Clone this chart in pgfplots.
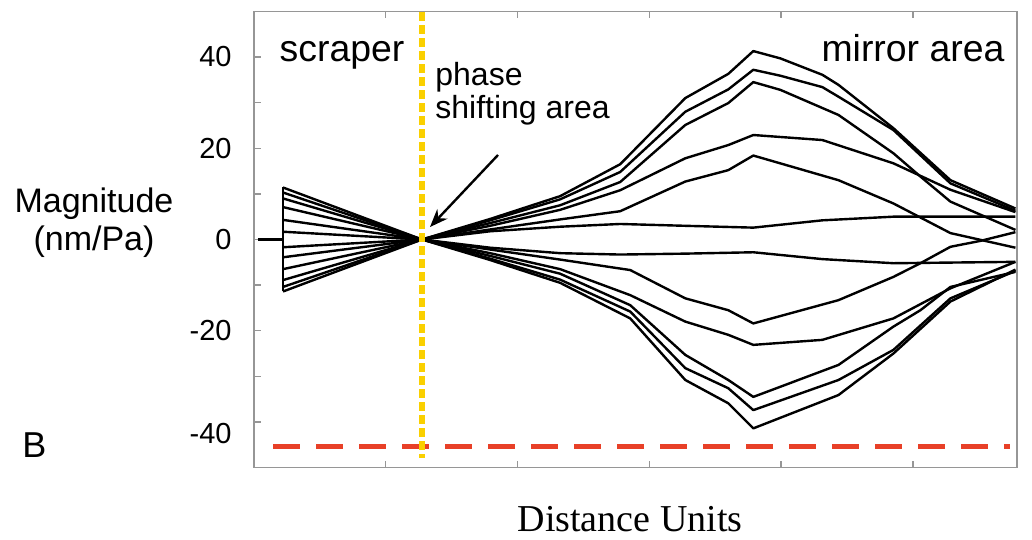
\documentclass[border=0pt]{standalone}
\usepackage{pgfplots}
\pgfplotsset{compat=1.18}
\usetikzlibrary{arrows.meta}
\usepackage{fontspec}
\setmainfont{Liberation Sans}
\newfontfamily\seriffont{Liberation Serif}
\definecolor{gold}{RGB}{250,208,0}
\definecolor{redline}{RGB}{232,64,40}
\definecolor{boxgray}{RGB}{150,150,150}

\begin{document}
\begin{tikzpicture}
\useasboundingbox (0pt,0pt) rectangle (516pt,270pt);
\begin{axis}[
    at={(127pt,36.2pt)}, anchor=south west,
    scale only axis,
    width=381.5pt, height=228.1pt,
    xmin=0, xmax=5.79,
    ymin=-50, ymax=50,
    xtick={1,2,3,4,5}, xticklabels={},
    ytick={-40,-30,...,40},
    yticklabels={,,-20,,0,,20,,40},
    extra y ticks={-40},
    extra y tick labels={-40},
    extra y tick style={yticklabel style={yshift=-6pt}},
    xtick pos=both, ytick pos=left,
    tick align=inside,
    major tick length=3.5pt,
    axis line style={boxgray, line width=0.7pt},
    tick style={boxgray, line width=0.7pt},
    /pgf/number format/assume math mode=true,
    yticklabel style={font=\fontsize{14.5}{17}\selectfont, inner sep=0pt, xshift=-11pt},
    clip=false,
    curve/.style={black, solid, line width=1.2pt, line join=round, no markers},
]
% scraper fan
\addplot[curve] coordinates {(0.03,0)(0.22,0)};
\addplot[curve] coordinates {(0.22,-11.4)(0.22,11.4)};

% positive branches
\addplot[curve] coordinates {(0.22,11.4)(1.275,0)(1.792,4.5)(2.323,9.5)(2.779,16.5)(3.273,31.0)(3.599,36.3)(3.789,41.3)(3.994,39.7)(4.313,36.1)(4.435,33.9)(4.852,24.4)(5.285,13.0)(5.778,6.8)};
\addplot[curve] coordinates {(0.22,10.3)(1.275,0)(1.792,4.2)(2.323,8.8)(2.779,14.8)(3.273,28.0)(3.599,32.9)(3.789,37.2)(3.994,35.9)(4.313,33.4)(4.435,31.3)(4.852,24.0)(5.285,12.3)(5.778,6.3)};
\addplot[curve] coordinates {(0.22,9.0)(1.275,0)(1.792,3.6)(2.323,7.5)(2.779,12.6)(3.273,25.1)(3.599,29.9)(3.789,34.5)(3.994,32.8)(4.435,27.3)(4.852,18.9)(5.057,13.8)(5.285,8.3)(5.778,2.1)};
\addplot[curve] coordinates {(0.22,7.1)(1.275,0)(1.792,3.0)(2.323,6.5)(2.779,10.8)(3.273,17.8)(3.599,20.7)(3.789,22.9)(4.313,21.8)(4.852,16.7)(5.285,10.9)(5.778,6.0)};
\addplot[curve] coordinates {(0.22,4.3)(1.275,0)(1.792,2.2)(2.323,4.4)(2.779,6.2)(3.273,12.7)(3.599,15.2)(3.789,18.4)(4.435,13.0)(4.852,7.9)(5.285,1.4)(5.778,-1.8)};
\addplot[curve] coordinates {(0.22,1.7)(1.275,0)(1.792,1.8)(2.323,2.8)(2.779,3.4)(3.273,3.0)(3.789,2.6)(4.313,4.2)(4.852,5.0)(5.778,5.0)};

% negative branches
\addplot[curve] coordinates {(0.22,-1.7)(1.275,0)(1.792,-1.8)(2.323,-3.0)(2.779,-3.3)(3.273,-3.1)(3.789,-2.8)(4.313,-4.3)(4.852,-5.2)(5.778,-4.9)};
\addplot[curve] coordinates {(0.22,-3.9)(1.275,0)(1.792,-2.2)(2.323,-4.4)(2.855,-6.7)(3.273,-12.9)(3.599,-15.5)(3.789,-18.4)(4.435,-13.3)(4.852,-8.2)(5.057,-5.2)(5.285,-1.6)(5.513,-0.3)(5.778,1.6)};
\addplot[curve] coordinates {(0.22,-6.5)(1.275,0)(1.792,-3.0)(2.323,-6.5)(2.855,-12.2)(3.273,-18.0)(3.599,-20.9)(3.789,-23.1)(4.313,-22.0)(4.852,-17.3)(5.285,-10.7)(5.778,-4.9)};
\addplot[curve] coordinates {(0.22,-8.9)(1.275,0)(1.792,-3.6)(2.323,-7.5)(2.855,-14.4)(3.273,-25.3)(3.599,-30.8)(3.789,-34.5)(4.435,-27.5)(4.852,-19.1)(5.057,-15.5)(5.285,-10.4)(5.778,-7.1)};
\addplot[curve] coordinates {(0.22,-10.4)(1.275,0)(1.792,-4.2)(2.323,-8.8)(2.855,-15.8)(3.273,-28.2)(3.599,-32.6)(3.789,-37.4)(4.435,-30.8)(4.852,-24.2)(5.285,-12.9)(5.778,-6.9)};
\addplot[curve] coordinates {(0.22,-11.4)(1.275,0)(1.792,-4.5)(2.323,-9.5)(2.855,-17.3)(3.273,-30.8)(3.599,-35.9)(3.789,-41.4)(4.435,-34.1)(4.852,-25.0)(5.285,-13.6)(5.778,-6.6)};

% markers of the areas
\addplot[redline, solid, line width=2.6pt, dash pattern=on 13.5pt off 8pt, no markers] coordinates {(0.145,-45.4)(5.738,-45.4)};
\addplot[gold, solid, line width=2.6pt, dash pattern=on 4.5pt off 2pt, no markers] coordinates {(1.275,49.8)(1.275,-47.9)};
\end{axis}

\draw[line width=1.2pt, -{Stealth[length=9pt,width=7pt]}] (249pt,192.5pt) -- (215pt,156.5pt);
\node[anchor=base, font=\fontsize{18.7}{22}\selectfont] at (171pt,239pt) {scraper};
\node[anchor=base, font=\fontsize{18.7}{22}\selectfont] at (456.5pt,239pt) {mirror area};
\node[anchor=base west, font=\fontsize{16}{19}\selectfont, inner sep=0pt] at (217.5pt,227pt) {phase};
\node[anchor=base west, font=\fontsize{16}{19}\selectfont, inner sep=0pt] at (217.5pt,210.5pt) {shifting area};
\node[anchor=base, font=\fontsize{17}{20}\selectfont] at (47pt,163.5pt) {Magnitude};
\node[anchor=base, font=\fontsize{17}{20}\selectfont] at (47pt,144.5pt) {(nm/Pa)};
\node[anchor=base west, inner sep=0pt, font=\fontsize{18}{21}\selectfont] at (11pt,41pt) {B};
\node[anchor=base, font=\seriffont\fontsize{19}{22}\selectfont] at (315pt,4pt) {Distance Units};
\end{tikzpicture}
\end{document}
